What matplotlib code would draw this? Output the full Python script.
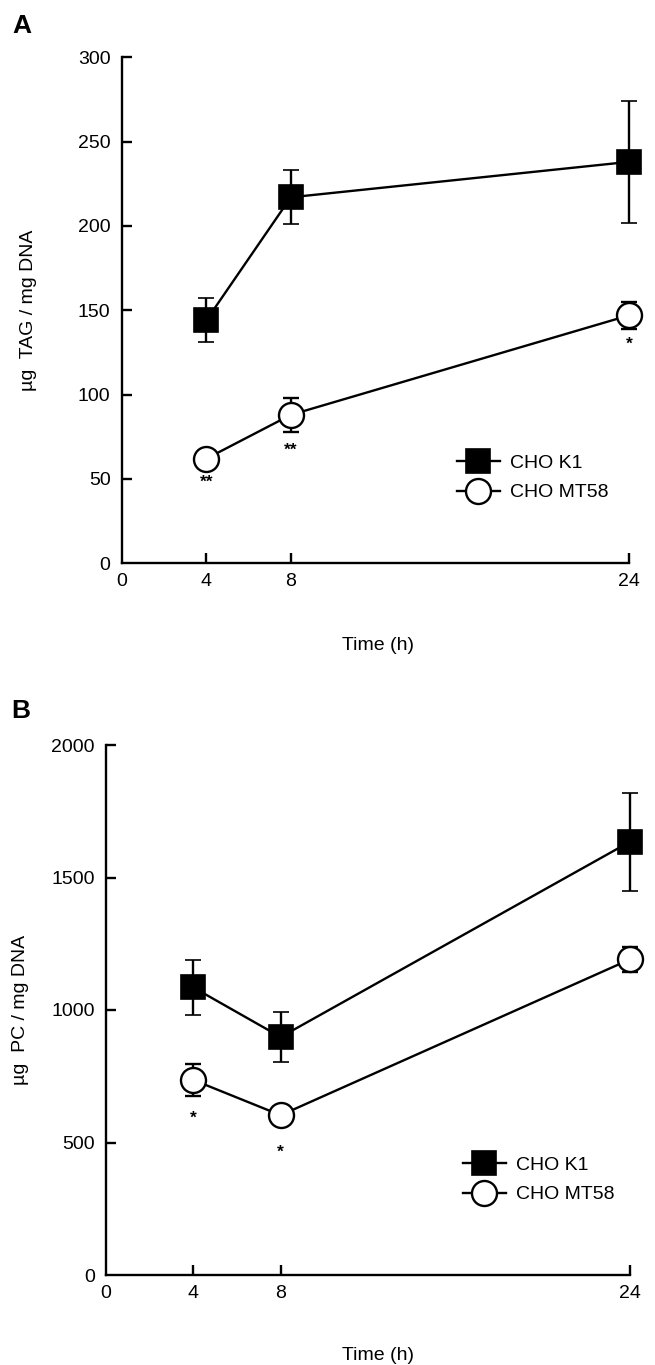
import matplotlib
matplotlib.use("Agg")
import matplotlib.pyplot as plt

plt.rcParams['font.family'] = ['Liberation Sans', 'DejaVu Sans']

# ---------------- data ----------------
time_h = [4, 8, 24]
x_ticks = [0, 4, 8, 24]

# Panel A: TAG
tag_k1 = [144, 217, 238]
tag_k1_err = [13, 16, 36]
tag_mt58 = [62, 88, 147]
tag_mt58_err = [4, 10, 8]
tag_star_x = [4, 8, 24]
tag_star_y = [48, 67, 130]
tag_star_txt = ['**', '**', '*']
tag_yticks = [0, 50, 100, 150, 200, 250, 300]

# Panel B: PC
pc_k1 = [1085, 898, 1635]
pc_k1_err = [105, 93, 185]
pc_mt58 = [736, 603, 1191]
pc_mt58_err = [62, 30, 47]
pc_star_x = [4, 8]
pc_star_y = [590, 465]
pc_star_txt = ['*', '*']
pc_yticks = [0, 500, 1000, 1500, 2000]

labels = ['CHO K1', 'CHO MT58']

W, H = 655, 1365
fig = plt.figure(figsize=(W / 100, H / 100), dpi=100)

FS = 14
LW = 1.7


def px(x0, y0, x1, y1):
    # pixel box (left, top, right, bottom) to figure fraction
    return [x0 / W, 1 - y1 / H, (x1 - x0) / W, (y1 - y0) / H]


def rect_center_y(rect):
    b, h = rect[1], rect[3]
    return (1 - (b + h / 2)) * H


def panel(rect, k1, k1e, mt, mte, ymax, yticks, ylabel, sx, sy, st,
          leg_anchor, xlab_y, ylab_x, letter, letter_xy):
    ax = fig.add_axes(rect)
    ax.errorbar(time_h, k1, yerr=k1e, fmt='-s', color='black', lw=LW,
                ms=17.5, mfc='black', mec='black', mew=1.2,
                elinewidth=LW, capsize=5.8, capthick=LW, clip_on=False,
                label=labels[0], zorder=3)
    ax.errorbar(time_h, mt, yerr=mte, fmt='-o', color='black', lw=LW,
                ms=18, mfc='white', mec='black', mew=1.7,
                elinewidth=LW, capsize=5.8, capthick=LW, clip_on=False,
                label=labels[1], zorder=3)
    for x, y, t in zip(sx, sy, st):
        ax.text(x, y, t, ha='center', va='center', fontsize=12.5,
                fontweight='bold')
    ax.set_xlim(0, 24)
    ax.set_ylim(0, ymax)
    ax.set_xticks(x_ticks)
    ax.set_yticks(yticks)
    for s in ['top', 'right']:
        ax.spines[s].set_visible(False)
    for s in ['left', 'bottom']:
        ax.spines[s].set_linewidth(LW)
    ax.tick_params(direction='in', length=7.5, width=LW, labelsize=FS)
    ax.tick_params(axis='y', pad=8)
    ax.tick_params(axis='x', pad=7)
    ax.xaxis.get_major_ticks()[0].tick1line.set_visible(False)
    ax.yaxis.get_major_ticks()[0].tick1line.set_visible(False)

    h, l = ax.get_legend_handles_labels()
    h = [hh[0] for hh in h]
    fig.legend(h, l, loc='center left',
               bbox_to_anchor=(leg_anchor[0] / W, 1 - leg_anchor[1] / H),
               frameon=False, fontsize=FS, handlelength=2.2,
               handletextpad=0.55, labelspacing=0.6, borderpad=0,
               borderaxespad=0, numpoints=1)
    fig.text(378 / W, 1 - xlab_y / H, 'Time (h)', ha='center', va='center',
             fontsize=FS)
    fig.text(ylab_x / W, 1 - (rect_center_y(rect)) / H, ylabel,
             rotation=90, ha='center', va='center', fontsize=FS)
    fig.text(letter_xy[0] / W, 1 - letter_xy[1] / H, letter, ha='left',
             va='baseline', fontsize=19, fontweight='bold')
    return ax


rectA = px(121.7, 57.3, 629, 563.3)
rectB = px(106, 745, 630, 1275)

panel(rectA, tag_k1, tag_k1_err, tag_mt58, tag_mt58_err, 300, tag_yticks,
      'µg  TAG / mg DNA', tag_star_x, tag_star_y, tag_star_txt,
      (457, 478), 645, 29, 'A', (12, 33))
panel(rectB, pc_k1, pc_k1_err, pc_mt58, pc_mt58_err, 2000, pc_yticks,
      'µg  PC / mg DNA', pc_star_x, pc_star_y, pc_star_txt,
      (463, 1180), 1356, 21, 'B', (11, 718))

fig.savefig('out.png', dpi=100)
